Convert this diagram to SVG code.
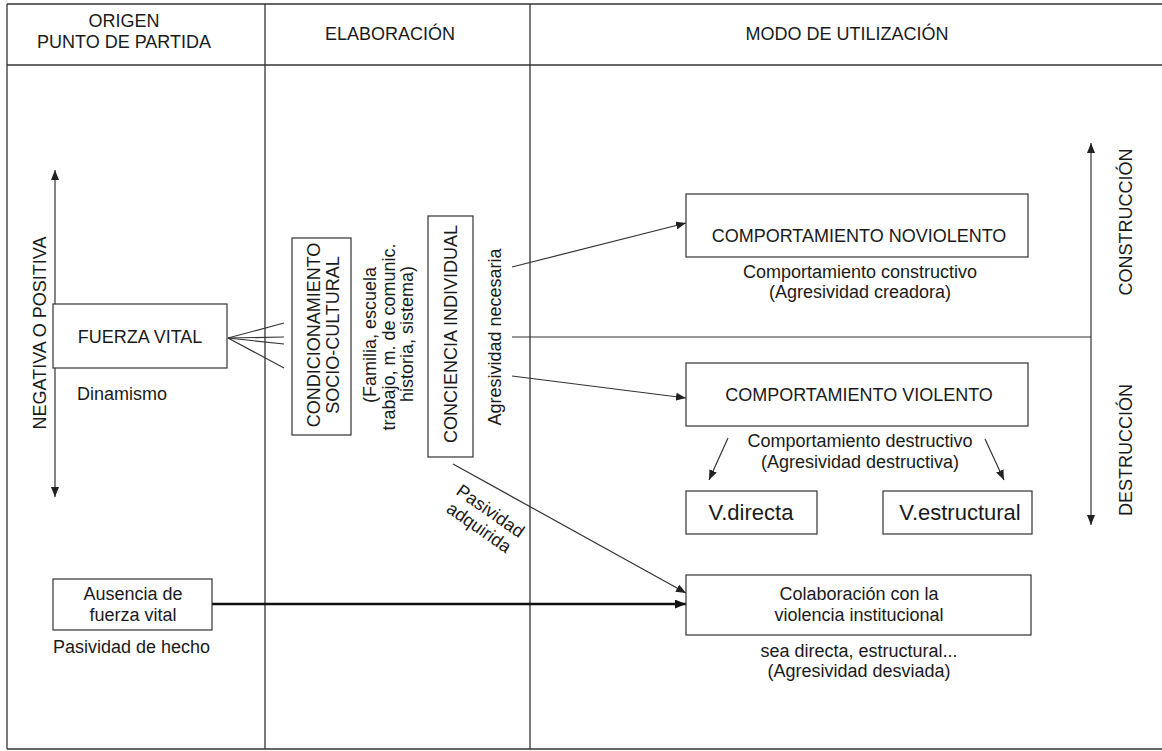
<svg xmlns="http://www.w3.org/2000/svg" width="1162" height="751" viewBox="0 0 1162 751">
<defs>
<style>
text{font-family:"Liberation Sans",Arial,sans-serif;font-size:18px;fill:#1a1a1a}
.m{text-anchor:middle}
.big{font-size:22px}
.frame{stroke:#333;stroke-width:1.3;fill:none}
.box{fill:#fff;stroke:#333;stroke-width:1.2}
.ln{stroke:#333;stroke-width:1.2;fill:none}
.thick{stroke:#111;stroke-width:2.4;fill:none}
</style>
<marker id="ah" viewBox="0 0 10 8" refX="10" refY="4" markerWidth="10" markerHeight="8" markerUnits="userSpaceOnUse" orient="auto-start-reverse">
<path d="M0,0 L10,4 L0,8 z" fill="#222"/>
</marker>
<marker id="ahb" viewBox="0 0 10 8" refX="10" refY="4" markerWidth="11" markerHeight="9" markerUnits="userSpaceOnUse" orient="auto">
<path d="M0,0 L10,4 L0,8 z" fill="#111"/>
</marker>
</defs>

<g id="table">
<line class="frame" x1="7" y1="4" x2="1162" y2="4"/>
<line class="frame" x1="7" y1="65" x2="1162" y2="65"/>
<line class="frame" x1="7" y1="749" x2="1162" y2="749"/>
<line class="frame" x1="7" y1="4" x2="7" y2="749"/>
<line class="frame" x1="265" y1="4" x2="265" y2="749"/>
<line class="frame" x1="530" y1="4" x2="530" y2="749"/>
<text class="m" x="124" y="27">ORIGEN</text>
<text class="m" x="124" y="48">PUNTO DE PARTIDA</text>
<text class="m" x="390" y="40">ELABORACIÓN</text>
<text class="m" x="847" y="40">MODO DE UTILIZACIÓN</text>
</g>

<g id="axis-left">
<line class="ln" x1="55" y1="170" x2="55" y2="497" marker-start="url(#ah)" marker-end="url(#ah)"/>
<text class="m" transform="translate(46,333) rotate(-90)">NEGATIVA O POSITIVA</text>
</g>

<g id="axis-right">
<line class="ln" x1="1091" y1="143" x2="1091" y2="525" marker-start="url(#ah)" marker-end="url(#ah)"/>
<text class="m" transform="translate(1132,222) rotate(-90)">CONSTRUCCIÓN</text>
<text class="m" transform="translate(1132,450) rotate(-90)">DESTRUCCIÓN</text>
</g>

<g id="connectors">
<line class="ln" x1="228" y1="338" x2="284" y2="323"/>
<line class="ln" x1="228" y1="338" x2="284" y2="337"/>
<line class="ln" x1="228" y1="338" x2="284" y2="344"/>
<line class="ln" x1="228" y1="338" x2="284" y2="368"/>
<line class="ln" x1="512" y1="267" x2="686" y2="223" marker-end="url(#ah)"/>
<line class="ln" x1="512" y1="337" x2="1091" y2="337"/>
<line class="ln" x1="512" y1="376" x2="686" y2="398" marker-end="url(#ah)"/>
<line class="ln" x1="453" y1="464" x2="686" y2="593" marker-end="url(#ah)"/>
<line class="thick" x1="212" y1="604" x2="686" y2="604" marker-end="url(#ahb)"/>
<line class="ln" x1="728" y1="438" x2="709" y2="480" marker-end="url(#ah)"/>
<line class="ln" x1="985" y1="439" x2="1004" y2="480" marker-end="url(#ah)"/>
</g>

<g id="fuerza-vital">
<rect class="box" x="53" y="304" width="174" height="64"/>
<text class="m" x="140" y="343">FUERZA VITAL</text>
<text x="77" y="400">Dinamismo</text>
</g>

<g id="condicionamiento">
<rect class="box" x="292" y="238" width="59" height="197"/>
<text class="m" transform="translate(320,335) rotate(-90)">CONDICIONAMIENTO</text>
<text class="m" transform="translate(339,335) rotate(-90)">SOCIO-CULTURAL</text>
</g>

<g id="familia">
<text class="m" transform="translate(376,335) rotate(-90)">(Familia, escuela</text>
<text class="m" transform="translate(395,337) rotate(-90)">trabajo, m. de comunic.</text>
<text class="m" transform="translate(413,334) rotate(-90)">historia, sistema)</text>
</g>

<g id="conciencia">
<rect class="box" x="428" y="216" width="45" height="241"/>
<text class="m" transform="translate(457,334) rotate(-90)">CONCIENCIA INDIVIDUAL</text>
</g>

<g id="agresividad-necesaria">
<text class="m" transform="translate(501,337) rotate(-90)">Agresividad necesaria</text>
</g>

<g id="pasividad-adquirida">
<g transform="translate(487,516) rotate(35)">
<text class="m" x="0" y="0">Pasividad</text>
<text class="m" x="0" y="20">adquirida</text>
</g>
</g>

<g id="noviolento">
<rect class="box" x="686" y="194" width="342" height="63"/>
<text class="m" x="859" y="242">COMPORTAMIENTO NOVIOLENTO</text>
<text class="m" x="860" y="278">Comportamiento constructivo</text>
<text class="m" x="860" y="298">(Agresividad creadora)</text>
</g>

<g id="violento">
<rect class="box" x="686" y="363" width="342" height="63"/>
<text class="m" x="859" y="401">COMPORTAMIENTO VIOLENTO</text>
<text class="m" x="860" y="447">Comportamiento destructivo</text>
<text class="m" x="860" y="468">(Agresividad destructiva)</text>
</g>

<g id="v-directa">
<rect class="box" x="686" y="491" width="131" height="43"/>
<text class="m big" x="751" y="520">V.directa</text>
</g>

<g id="v-estructural">
<rect class="box" x="883" y="491" width="149" height="43"/>
<text class="m big" x="960" y="520">V.estructural</text>
</g>

<g id="ausencia">
<rect class="box" x="53" y="579" width="159" height="51"/>
<text class="m" x="133" y="600">Ausencia de</text>
<text class="m" x="133" y="621">fuerza vital</text>
<text x="53" y="653">Pasividad de hecho</text>
</g>

<g id="colaboracion">
<rect class="box" x="686" y="575" width="345" height="60"/>
<text class="m" x="859" y="600">Colaboración con la</text>
<text class="m" x="859" y="621">violencia institucional</text>
<text class="m" x="859" y="657">sea directa, estructural...</text>
<text class="m" x="859" y="677">(Agresividad desviada)</text>
</g>
</svg>
